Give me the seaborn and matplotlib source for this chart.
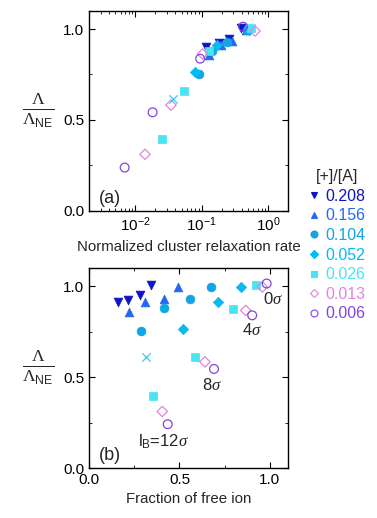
import numpy as np
import pandas as pd
import matplotlib
matplotlib.use("Agg")
import matplotlib.pyplot as plt
import seaborn as sns

# ---------- data ----------
RATIOS = ["0.208", "0.156", "0.104", "0.052", "0.026", "0.013", "0.006"]
COLORS = ["#0C14C8", "#2468F0", "#12A4E4", "#00BCF2", "#48E4F2", "#E484DC", "#8444E0"]
MARKERS = ["v", "^", "o", "D", "s", "D", "o"]
FILLED = [True, True, True, True, True, False, False]

# panel (a): normalized cluster relaxation rate vs Lambda/Lambda_NE
RATE_A = [
    [0.116, 0.183, 0.259, 0.389],
    [0.13, 0.195, 0.29, 0.46],
    [0.0896, 0.145, 0.244, 0.49],
    [0.080, 0.173, 0.52],
    [0.0252, 0.0532, 0.13, 0.547],
    [0.014, 0.0344, 0.103, 0.638],
    [0.0069, 0.0182, 0.0948, 0.42],
]
LAM_A = [
    [0.903, 0.921, 0.943, 1.004],
    [0.858, 0.915, 0.932, 0.996],
    [0.753, 0.878, 0.928, 0.996],
    [0.766, 0.915, 0.996],
    [0.394, 0.659, 0.877, 1.006],
    [0.311, 0.582, 0.863, 0.989],
    [0.238, 0.542, 0.837, 1.013],
]
# panel (b): fraction of free ion vs Lambda/Lambda_NE
FREE_B = [
    [0.158, 0.217, 0.282, 0.343],
    [0.223, 0.309, 0.414, 0.494],
    [0.285, 0.416, 0.560, 0.672],
    [0.521, 0.714, 0.841],
    [0.352, 0.586, 0.797, 0.921],
    [0.405, 0.641, 0.866, 0.958],
    [0.435, 0.691, 0.902, 0.982],
]
LAM_B = [
    [0.913, 0.924, 0.950, 1.006],
    [0.858, 0.915, 0.932, 0.996],
    [0.753, 0.878, 0.928, 0.996],
    [0.766, 0.915, 0.996],
    [0.398, 0.608, 0.877, 1.006],
    [0.311, 0.584, 0.867, 0.996],
    [0.241, 0.545, 0.840, 1.015],
]
CROSS_A = (0.0364, 0.614)
CROSS_B = (0.315, 0.611)
CROSS_COLOR = "#40C8F0"

# ---------- style ----------
sns.set_style("ticks")
plt.rcParams.update({
    "font.family": ["Liberation Sans", "DejaVu Sans"],
    "font.size": 11,
    "mathtext.fontset": "custom",
    "mathtext.rm": "Liberation Serif",
    "mathtext.it": "Liberation Serif:italic",
    "mathtext.sf": "Liberation Sans",
    "xtick.direction": "in",
    "ytick.direction": "in",
    "xtick.top": True,
    "ytick.right": True,
    "xtick.major.size": 4,
    "ytick.major.size": 4,
    "xtick.minor.size": 2,
    "ytick.minor.size": 2,
    "axes.linewidth": 1.0,
    "xtick.color": "black",
    "ytick.color": "black",
    "axes.edgecolor": "black",
})

fig = plt.figure(figsize=(3.77, 5.18), dpi=100)
ax_a = fig.add_axes([0.236, 0.593, 0.528, 0.386])
ax_b = fig.add_axes([0.236, 0.0965, 0.528, 0.386])


def draw(ax, xs, ys, size=40):
    handles = []
    for i in range(len(RATIOS)):
        c = COLORS[i]
        kw = dict(marker=MARKERS[i], s=size if MARKERS[i] != "D" else size * 0.7, ax=ax,
                  legend=False, zorder=3)
        if FILLED[i]:
            sns.scatterplot(x=xs[i], y=ys[i], color=c, edgecolor=c, linewidth=0.5, **kw)
        else:
            sns.scatterplot(x=xs[i], y=ys[i], facecolor="none", edgecolor=c, linewidth=0.9, **kw)
        h = plt.Line2D([], [], linestyle="none", marker=MARKERS[i], markersize=5 if MARKERS[i] != "D" else 4,
                       markerfacecolor=c if FILLED[i] else "none", markeredgecolor=c,
                       markeredgewidth=0.8)
        handles.append(h)
    return handles


handles = draw(ax_a, RATE_A, LAM_A)
ax_a.scatter([CROSS_A[0]], [CROSS_A[1]], marker="x", s=36, color=CROSS_COLOR, linewidths=0.9, zorder=3)
ax_a.set_xscale("log")
ax_a.set_xlim(0.002, 2)
ax_a.set_ylim(0, 1.1)
ax_a.set_yticks([0, 0.5, 1.0])
ax_a.set_yticks([0.25, 0.75], minor=True)
ax_a.set_yticklabels(["0.0", "0.5", "1.0"])
ax_a.set_xlabel("Normalized cluster relaxation rate", labelpad=4, fontsize=10.8)
ax_a.text(0.05, 0.04, "(a)", transform=ax_a.transAxes, fontsize=13)

draw(ax_b, FREE_B, LAM_B)
ax_b.scatter([CROSS_B[0]], [CROSS_B[1]], marker="x", s=36, color=CROSS_COLOR, linewidths=0.9, zorder=3)
ax_b.set_xlim(0, 1.1)
ax_b.set_ylim(0, 1.1)
ax_b.set_xticks([0, 0.5, 1.0])
ax_b.set_xticks([0.25, 0.75], minor=True)
ax_b.set_xticklabels(["0.0", "0.5", "1.0"])
ax_b.set_yticks([0, 0.5, 1.0])
ax_b.set_yticks([0.25, 0.75], minor=True)
ax_b.set_yticklabels(["0.0", "0.5", "1.0"])
ax_b.set_xlabel("Fraction of free ion", labelpad=4, fontsize=10.8)
ax_b.text(0.05, 0.04, "(b)", transform=ax_b.transAxes, fontsize=13)

ax_b.text(1.018, 0.932, r"0$\sigma$", ha="center", va="center", fontsize=12)
ax_b.text(0.899, 0.762, r"4$\sigma$", ha="center", va="center", fontsize=12)
ax_b.text(0.678, 0.455, r"8$\sigma$", ha="center", va="center", fontsize=12)
ax_b.text(0.41, 0.145, r"l$_\mathsf{B}$=12$\sigma$", ha="center", va="center", fontsize=12)

for ax in (ax_a, ax_b):
    ax.tick_params(which="both", labelsize=11)
    ax.set_ylabel("")

# y-axis labels as fractions
for yc in (0.786, 0.29):
    fig.text(0.1, yc, r"$\frac{\Lambda}{\Lambda_{\mathsf{NE}}}$", fontsize=18,
             ha="center", va="center")

leg = fig.legend(handles, RATIOS, title="[+]/[A]", loc="upper left",
                 bbox_to_anchor=(0.8, 0.686), frameon=False, fontsize=11.5,
                 handlelength=0.7, handletextpad=0.4, labelspacing=0.29,
                 title_fontsize=11.5, borderaxespad=0)
for t, c in zip(leg.get_texts(), COLORS):
    t.set_color(c)

fig.savefig("out.png", dpi=100)
